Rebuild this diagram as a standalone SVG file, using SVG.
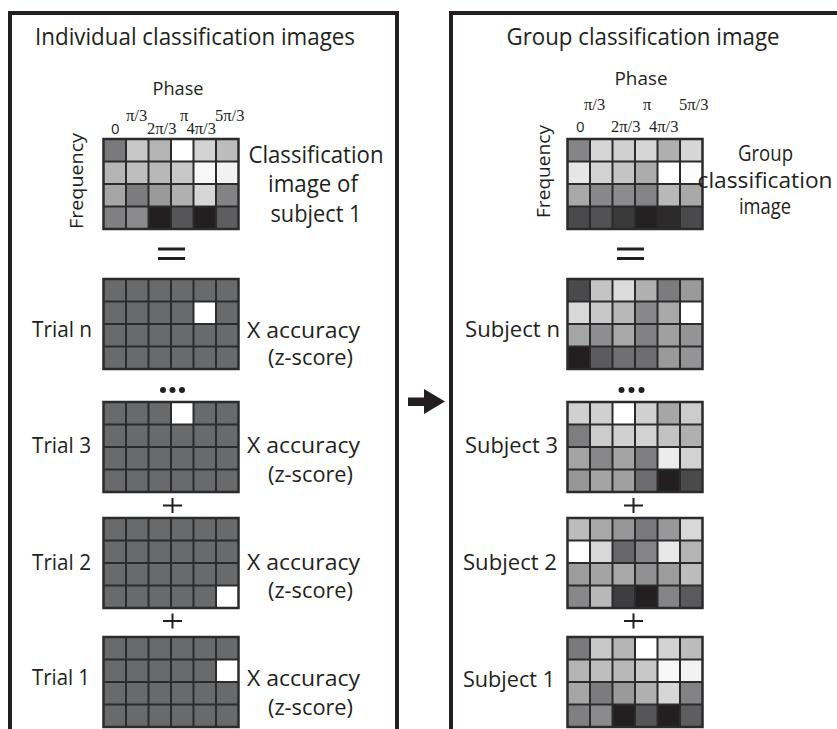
<svg xmlns="http://www.w3.org/2000/svg" xmlns:xlink="http://www.w3.org/1999/xlink" width="837" height="729" viewBox="0 0 837 729">
<style>
.panel{fill:none;stroke:#231f20;stroke-width:4}
.t{font-family:"Open Sans","Noto Sans","Liberation Sans",sans-serif;fill:#231f20}
.big{font-size:23px}
.grp{font-size:22.5px}
.mid{font-size:21px}
.ph{font-size:18.5px}
.zero{font-size:15px}
.pi{font-family:"Liberation Serif","DejaVu Serif",serif;font-size:16.5px;fill:#231f20}
.c{text-anchor:middle}
.gl{fill:none;stroke:#2b2b2b;stroke-width:2}
.go{fill:none;stroke:#2b2b2b;stroke-width:2.5}
.sym{stroke:#231f20;fill:none}
.dk{fill:#696a6c}
</style>
<defs>
<g id="gl">
<path class="gl" d="M22.5 0V90M45 0V90M67.5 0V90M90 0V90M112.5 0V90M0 22.5H135M0 45H135M0 67.5H135"/>
<rect class="go" x="0" y="0" width="135" height="90"/>
</g>
<g id="gA">
<rect x="0" y="0" width="22.5" height="22.5" fill="#7a7a7c"/><rect x="22.5" y="0" width="22.5" height="22.5" fill="#c8c8c8"/><rect x="45" y="0" width="22.5" height="22.5" fill="#b4b4b4"/><rect x="67.5" y="0" width="22.5" height="22.5" fill="#ffffff"/><rect x="90" y="0" width="22.5" height="22.5" fill="#d2d2d2"/><rect x="112.5" y="0" width="22.5" height="22.5" fill="#bcbcbc"/>
<rect x="0" y="22.5" width="22.5" height="22.5" fill="#b4b4b4"/><rect x="22.5" y="22.5" width="22.5" height="22.5" fill="#bebebe"/><rect x="45" y="22.5" width="22.5" height="22.5" fill="#b8b8b8"/><rect x="67.5" y="22.5" width="22.5" height="22.5" fill="#c8c8c8"/><rect x="90" y="22.5" width="22.5" height="22.5" fill="#f8f8f8"/><rect x="112.5" y="22.5" width="22.5" height="22.5" fill="#f2f2f2"/>
<rect x="0" y="45" width="22.5" height="22.5" fill="#a6a6a6"/><rect x="22.5" y="45" width="22.5" height="22.5" fill="#7c7c7e"/><rect x="45" y="45" width="22.5" height="22.5" fill="#9a9a9a"/><rect x="67.5" y="45" width="22.5" height="22.5" fill="#b0b0b0"/><rect x="90" y="45" width="22.5" height="22.5" fill="#d6d6d6"/><rect x="112.5" y="45" width="22.5" height="22.5" fill="#838385"/>
<rect x="0" y="67.5" width="22.5" height="22.5" fill="#808082"/><rect x="22.5" y="67.5" width="22.5" height="22.5" fill="#8a8a8c"/><rect x="45" y="67.5" width="22.5" height="22.5" fill="#231f20"/><rect x="67.5" y="67.5" width="22.5" height="22.5" fill="#565658"/><rect x="90" y="67.5" width="22.5" height="22.5" fill="#231f20"/><rect x="112.5" y="67.5" width="22.5" height="22.5" fill="#5e5e60"/>
<use xlink:href="#gl"/>
</g>
</defs>
<rect width="837" height="729" fill="#ffffff"/>

<g id="left-panel">
<rect class="panel" x="10" y="13" width="387" height="730"/>
<text class="t big c" x="195" y="45" textLength="320" lengthAdjust="spacingAndGlyphs">Individual classification images</text>
<text class="t ph c" x="178" y="95" textLength="51" lengthAdjust="spacingAndGlyphs">Phase</text>
<text class="t ph c" transform="translate(83,181) rotate(-90)" textLength="96" lengthAdjust="spacingAndGlyphs">Frequency</text>
<text class="pi" x="126" y="121">π/3</text>
<text class="pi" x="180" y="121">π</text>
<text class="pi" x="215" y="121">5π/3</text>
<text class="t zero" x="111" y="134">0</text>
<text class="pi" x="147" y="134">2π/3</text>
<text class="pi" x="186.5" y="134">4π/3</text>
</g>

<g id="left-ci">
<use xlink:href="#gA" transform="translate(103.5,139)"/>
<text class="t big c" x="316" y="163" textLength="135" lengthAdjust="spacingAndGlyphs">Classification</text>
<text class="t big c" x="313" y="192" textLength="90" lengthAdjust="spacingAndGlyphs">image of</text>
<text class="t big c" x="316" y="222" textLength="91" lengthAdjust="spacingAndGlyphs">subject 1</text>
<path class="sym" stroke-width="3" d="M158 249H185M158 258.5H185"/>
</g>

<g id="trial-n">
<g transform="translate(103.5,279)"><rect class="dk" width="135" height="90"/><rect x="90" y="22.5" width="22.5" height="22.5" fill="#fff"/><use xlink:href="#gl"/></g>
<text class="t mid" x="32" y="337" textLength="60" lengthAdjust="spacingAndGlyphs">Trial n</text>
<text class="t mid" x="247" y="338" textLength="113" lengthAdjust="spacingAndGlyphs">X accuracy</text>
<text class="t mid" x="268" y="365" textLength="85" lengthAdjust="spacingAndGlyphs">(z-score)</text>
<circle cx="163" cy="390" r="3" fill="#231f20"/><circle cx="172.5" cy="390" r="3" fill="#231f20"/><circle cx="182" cy="390" r="3" fill="#231f20"/>
</g>

<g id="trial-3">
<g transform="translate(103.5,402)"><rect class="dk" width="135" height="90"/><rect x="67.5" y="0" width="22.5" height="22.5" fill="#fff"/><use xlink:href="#gl"/></g>
<text class="t mid" x="32" y="453" textLength="59" lengthAdjust="spacingAndGlyphs">Trial 3</text>
<text class="t mid" x="247" y="453" textLength="113" lengthAdjust="spacingAndGlyphs">X accuracy</text>
<text class="t mid" x="268" y="482" textLength="85" lengthAdjust="spacingAndGlyphs">(z-score)</text>
<path class="sym" stroke-width="2" d="M163 505.5H182M172.5 498V513"/>
</g>

<g id="trial-2">
<g transform="translate(103.5,518)"><rect class="dk" width="135" height="90"/><rect x="112.5" y="67.5" width="22.5" height="22.5" fill="#fff"/><use xlink:href="#gl"/></g>
<text class="t mid" x="32" y="570" textLength="59" lengthAdjust="spacingAndGlyphs">Trial 2</text>
<text class="t mid" x="247" y="570" textLength="113" lengthAdjust="spacingAndGlyphs">X accuracy</text>
<text class="t mid" x="268" y="598" textLength="85" lengthAdjust="spacingAndGlyphs">(z-score)</text>
<path class="sym" stroke-width="2" d="M163 621H182M172.5 613.5V628.5"/>
</g>

<g id="trial-1">
<g transform="translate(103.5,637)"><rect class="dk" width="135" height="90"/><rect x="112.5" y="22.5" width="22.5" height="22.5" fill="#fff"/><use xlink:href="#gl"/></g>
<text class="t mid" x="32" y="685" textLength="58" lengthAdjust="spacingAndGlyphs">Trial 1</text>
<text class="t mid" x="247" y="686" textLength="113" lengthAdjust="spacingAndGlyphs">X accuracy</text>
<text class="t mid" x="268" y="715" textLength="85" lengthAdjust="spacingAndGlyphs">(z-score)</text>
</g>

<g id="right-panel">
<rect class="panel" x="451" y="13" width="400" height="730"/>
<text class="t big c" x="643" y="45" textLength="273" lengthAdjust="spacingAndGlyphs">Group classification image</text>
<text class="t ph c" x="641" y="85" textLength="53" lengthAdjust="spacingAndGlyphs">Phase</text>
<text class="t ph c" transform="translate(550,171.5) rotate(-90)" textLength="93" lengthAdjust="spacingAndGlyphs">Frequency</text>
<text class="pi" x="584" y="110">π/3</text>
<text class="pi" x="643" y="110">π</text>
<text class="pi" x="679" y="110">5π/3</text>
<text class="t zero" x="576" y="132">0</text>
<text class="pi" x="611" y="132">2π/3</text>
<text class="pi" x="649" y="132">4π/3</text>
</g>

<g id="group-ci">
<g transform="translate(567.5,139)">
<rect x="0" y="0" width="22.5" height="22.5" fill="#858587"/><rect x="22.5" y="0" width="22.5" height="22.5" fill="#d6d6d6"/><rect x="45" y="0" width="22.5" height="22.5" fill="#d0d0d0"/><rect x="67.5" y="0" width="22.5" height="22.5" fill="#d6d6d6"/><rect x="90" y="0" width="22.5" height="22.5" fill="#afafaf"/><rect x="112.5" y="0" width="22.5" height="22.5" fill="#d6d6d6"/>
<rect x="0" y="22.5" width="22.5" height="22.5" fill="#e6e6e6"/><rect x="22.5" y="22.5" width="22.5" height="22.5" fill="#d2d2d2"/><rect x="45" y="22.5" width="22.5" height="22.5" fill="#c4c4c4"/><rect x="67.5" y="22.5" width="22.5" height="22.5" fill="#acacac"/><rect x="90" y="22.5" width="22.5" height="22.5" fill="#ffffff"/><rect x="112.5" y="22.5" width="22.5" height="22.5" fill="#fcfcfc"/>
<rect x="0" y="45" width="22.5" height="22.5" fill="#a8a8a8"/><rect x="22.5" y="45" width="22.5" height="22.5" fill="#88888a"/><rect x="45" y="45" width="22.5" height="22.5" fill="#8c8c8e"/><rect x="67.5" y="45" width="22.5" height="22.5" fill="#848486"/><rect x="90" y="45" width="22.5" height="22.5" fill="#b8b8b8"/><rect x="112.5" y="45" width="22.5" height="22.5" fill="#a8a8a8"/>
<rect x="0" y="67.5" width="22.5" height="22.5" fill="#4a4a4c"/><rect x="22.5" y="67.5" width="22.5" height="22.5" fill="#525254"/><rect x="45" y="67.5" width="22.5" height="22.5" fill="#3a3a3a"/><rect x="67.5" y="67.5" width="22.5" height="22.5" fill="#232021"/><rect x="90" y="67.5" width="22.5" height="22.5" fill="#2c2a2b"/><rect x="112.5" y="67.5" width="22.5" height="22.5" fill="#4a4a4c"/>
<use xlink:href="#gl"/>
</g>
<text class="t grp c" x="765.5" y="161" textLength="55" lengthAdjust="spacingAndGlyphs">Group</text>
<text class="t grp c" x="765" y="188" textLength="135" lengthAdjust="spacingAndGlyphs">classification</text>
<text class="t grp c" x="765" y="214" textLength="52" lengthAdjust="spacingAndGlyphs">image</text>
<path class="sym" stroke-width="3" d="M617 249H644M617 258.5H644"/>
</g>

<g id="subject-n">
<g transform="translate(567.5,279)">
<rect x="0" y="0" width="22.5" height="22.5" fill="#4a4a4c"/><rect x="22.5" y="0" width="22.5" height="22.5" fill="#c4c4c4"/><rect x="45" y="0" width="22.5" height="22.5" fill="#dcdcdc"/><rect x="67.5" y="0" width="22.5" height="22.5" fill="#b0b0b0"/><rect x="90" y="0" width="22.5" height="22.5" fill="#7c7c7e"/><rect x="112.5" y="0" width="22.5" height="22.5" fill="#9a9a9a"/>
<rect x="0" y="22.5" width="22.5" height="22.5" fill="#d8d8d8"/><rect x="22.5" y="22.5" width="22.5" height="22.5" fill="#c8c8c8"/><rect x="45" y="22.5" width="22.5" height="22.5" fill="#b8b8b8"/><rect x="67.5" y="22.5" width="22.5" height="22.5" fill="#88888a"/><rect x="90" y="22.5" width="22.5" height="22.5" fill="#a8a8a8"/><rect x="112.5" y="22.5" width="22.5" height="22.5" fill="#ffffff"/>
<rect x="0" y="45" width="22.5" height="22.5" fill="#a6a6a6"/><rect x="22.5" y="45" width="22.5" height="22.5" fill="#8e8e90"/><rect x="45" y="45" width="22.5" height="22.5" fill="#a8a8a8"/><rect x="67.5" y="45" width="22.5" height="22.5" fill="#828284"/><rect x="90" y="45" width="22.5" height="22.5" fill="#a0a0a0"/><rect x="112.5" y="45" width="22.5" height="22.5" fill="#949496"/>
<rect x="0" y="67.5" width="22.5" height="22.5" fill="#231f20"/><rect x="22.5" y="67.5" width="22.5" height="22.5" fill="#5c5c5e"/><rect x="45" y="67.5" width="22.5" height="22.5" fill="#707072"/><rect x="67.5" y="67.5" width="22.5" height="22.5" fill="#6e6e70"/><rect x="90" y="67.5" width="22.5" height="22.5" fill="#9a9a9a"/><rect x="112.5" y="67.5" width="22.5" height="22.5" fill="#949496"/>
<use xlink:href="#gl"/>
</g>
<text class="t mid" x="465" y="337" textLength="95" lengthAdjust="spacingAndGlyphs">Subject n</text>
<circle cx="621.5" cy="390" r="3" fill="#231f20"/><circle cx="631.5" cy="390" r="3" fill="#231f20"/><circle cx="641.5" cy="390" r="3" fill="#231f20"/>
</g>

<g id="subject-3">
<g transform="translate(567.5,402)">
<rect x="0" y="0" width="22.5" height="22.5" fill="#d0d0d0"/><rect x="22.5" y="0" width="22.5" height="22.5" fill="#d0d0d0"/><rect x="45" y="0" width="22.5" height="22.5" fill="#ffffff"/><rect x="67.5" y="0" width="22.5" height="22.5" fill="#d0d0d0"/><rect x="90" y="0" width="22.5" height="22.5" fill="#a6a6a6"/><rect x="112.5" y="0" width="22.5" height="22.5" fill="#cccccc"/>
<rect x="0" y="22.5" width="22.5" height="22.5" fill="#7e7e80"/><rect x="22.5" y="22.5" width="22.5" height="22.5" fill="#cccccc"/><rect x="45" y="22.5" width="22.5" height="22.5" fill="#d0d0d0"/><rect x="67.5" y="22.5" width="22.5" height="22.5" fill="#d2d2d2"/><rect x="90" y="22.5" width="22.5" height="22.5" fill="#c2c2c2"/><rect x="112.5" y="22.5" width="22.5" height="22.5" fill="#b0b0b0"/>
<rect x="0" y="45" width="22.5" height="22.5" fill="#a4a4a4"/><rect x="22.5" y="45" width="22.5" height="22.5" fill="#88888a"/><rect x="45" y="45" width="22.5" height="22.5" fill="#a4a4a4"/><rect x="67.5" y="45" width="22.5" height="22.5" fill="#7e7e80"/><rect x="90" y="45" width="22.5" height="22.5" fill="#ececec"/><rect x="112.5" y="45" width="22.5" height="22.5" fill="#d2d2d2"/>
<rect x="0" y="67.5" width="22.5" height="22.5" fill="#969698"/><rect x="22.5" y="67.5" width="22.5" height="22.5" fill="#a4a4a4"/><rect x="45" y="67.5" width="22.5" height="22.5" fill="#a0a0a0"/><rect x="67.5" y="67.5" width="22.5" height="22.5" fill="#6c6c6e"/><rect x="90" y="67.5" width="22.5" height="22.5" fill="#231f20"/><rect x="112.5" y="67.5" width="22.5" height="22.5" fill="#4a4a4c"/>
<use xlink:href="#gl"/>
</g>
<text class="t mid" x="465" y="453" textLength="93" lengthAdjust="spacingAndGlyphs">Subject 3</text>
<path class="sym" stroke-width="2" d="M624 505.5H643M633.5 498V513"/>
</g>

<g id="subject-2">
<g transform="translate(567.5,518)">
<rect x="0" y="0" width="22.5" height="22.5" fill="#bcbcbc"/><rect x="22.5" y="0" width="22.5" height="22.5" fill="#a8a8a8"/><rect x="45" y="0" width="22.5" height="22.5" fill="#969698"/><rect x="67.5" y="0" width="22.5" height="22.5" fill="#7a7a7c"/><rect x="90" y="0" width="22.5" height="22.5" fill="#98989a"/><rect x="112.5" y="0" width="22.5" height="22.5" fill="#d8d8d8"/>
<rect x="0" y="22.5" width="22.5" height="22.5" fill="#ffffff"/><rect x="22.5" y="22.5" width="22.5" height="22.5" fill="#d8d8d8"/><rect x="45" y="22.5" width="22.5" height="22.5" fill="#68686a"/><rect x="67.5" y="22.5" width="22.5" height="22.5" fill="#848486"/><rect x="90" y="22.5" width="22.5" height="22.5" fill="#e8e8e8"/><rect x="112.5" y="22.5" width="22.5" height="22.5" fill="#b4b4b4"/>
<rect x="0" y="45" width="22.5" height="22.5" fill="#9c9c9c"/><rect x="22.5" y="45" width="22.5" height="22.5" fill="#a4a4a4"/><rect x="45" y="45" width="22.5" height="22.5" fill="#a8a8a8"/><rect x="67.5" y="45" width="22.5" height="22.5" fill="#909092"/><rect x="90" y="45" width="22.5" height="22.5" fill="#9c9c9c"/><rect x="112.5" y="45" width="22.5" height="22.5" fill="#bcbcbc"/>
<rect x="0" y="67.5" width="22.5" height="22.5" fill="#88888a"/><rect x="22.5" y="67.5" width="22.5" height="22.5" fill="#b8b8b8"/><rect x="45" y="67.5" width="22.5" height="22.5" fill="#3e3e40"/><rect x="67.5" y="67.5" width="22.5" height="22.5" fill="#231f20"/><rect x="90" y="67.5" width="22.5" height="22.5" fill="#848486"/><rect x="112.5" y="67.5" width="22.5" height="22.5" fill="#5a5a5c"/>
<use xlink:href="#gl"/>
</g>
<text class="t mid" x="463" y="570" textLength="94" lengthAdjust="spacingAndGlyphs">Subject 2</text>
<path class="sym" stroke-width="2" d="M624 621H643M633.5 613.5V628.5"/>
</g>

<g id="subject-1">
<use xlink:href="#gA" transform="translate(567.5,637)"/>
<text class="t mid" x="463" y="687" textLength="92" lengthAdjust="spacingAndGlyphs">Subject 1</text>
</g>

<g id="connectors">
<path d="M408 397.5H424V389L445 401.5L424 414V406H408Z" fill="#231f20"/>
</g>
</svg>
